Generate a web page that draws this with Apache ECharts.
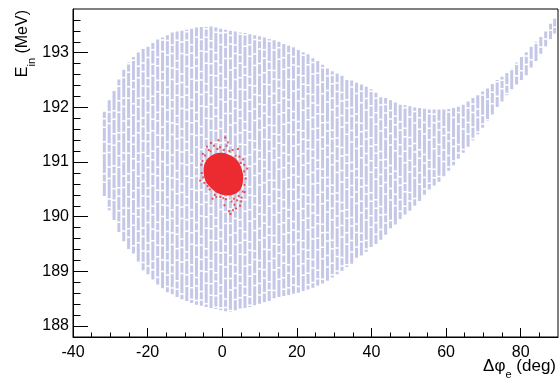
<!DOCTYPE html>
<html><head><meta charset="utf-8">
<script src="https://cdn.jsdelivr.net/npm/echarts@6/dist/echarts.min.js"></script>
<style>html,body{margin:0;padding:0;background:#fff}#c{width:559px;height:378px}</style>
</head><body><div id="c"></div>
<script>
// ---- tick labels ----
const xMajorTicks = [-40, -20, 0, 20, 40, 60, 80];
const xMinorTicks = [-35, -30, -25, -15, -10, -5, 5, 10, 15, 25, 30, 35, 45, 50, 55, 65, 70, 75, 85];
const yMajorTicks = [188, 189, 190, 191, 192, 193];
const yMinorTicks = [188.2, 188.4, 188.6, 188.8, 189.2, 189.4, 189.6, 189.8, 190.2, 190.4, 190.6, 190.8,
  191.2, 191.4, 191.6, 191.8, 192.2, 192.4, 192.6, 192.8, 193.2, 193.4, 193.6];

// ---- broad (lavender) distribution: one vertical stripe per column ----
const bandX = [-31.6, -30.3, -29.0, -27.7, -26.4, -25.1, -23.8, -22.5, -21.2, -19.9,
  -18.6, -17.3, -16.0, -14.7, -13.4, -12.1, -10.8, -9.5, -8.2, -6.9,
  -5.6, -4.3, -3.0, -1.7, -0.4, 0.9, 2.2, 3.5, 4.8, 6.1,
  7.4, 8.7, 10.0, 11.3, 12.6, 13.9, 15.2, 16.5, 17.8, 19.1,
  20.4, 21.7, 23.0, 24.3, 25.6, 26.9, 28.2, 29.5, 30.8, 32.1,
  33.4, 34.7, 36.0, 37.3, 38.6, 39.9, 41.2, 42.5, 43.8, 45.1,
  46.4, 47.7, 49.0, 50.3, 51.6, 52.9, 54.2, 55.5, 56.8, 58.1,
  59.4, 60.7, 62.0, 63.3, 64.6, 65.9, 67.2, 68.5, 69.8, 71.1,
  72.4, 73.7, 75.0, 76.3, 77.6, 78.9, 80.2, 81.5, 82.8, 84.1,
  85.4, 86.7, 88.0, 89.1];
const bandHigh = [191.92, 192.13, 192.32, 192.51, 192.69, 192.82, 192.92, 193.01, 193.07, 193.12,
  193.18, 193.24, 193.28, 193.32, 193.37, 193.39, 193.40, 193.42, 193.44, 193.46,
  193.47, 193.47, 193.48, 193.46, 193.44, 193.42, 193.40, 193.39, 193.37, 193.36,
  193.34, 193.32, 193.30, 193.28, 193.25, 193.23, 193.20, 193.17, 193.13, 193.10,
  193.05, 193.01, 192.97, 192.90, 192.85, 192.78, 192.71, 192.66, 192.62, 192.58,
  192.53, 192.49, 192.45, 192.42, 192.38, 192.33, 192.27, 192.21, 192.17, 192.13,
  192.09, 192.05, 192.04, 192.02, 192.00, 191.99, 191.98, 191.96, 191.96, 191.96,
  191.96, 191.97, 191.99, 192.01, 192.05, 192.11, 192.17, 192.22, 192.29, 192.36,
  192.43, 192.50, 192.56, 192.63, 192.71, 192.82, 192.92, 193.01, 193.11, 193.20,
  193.29, 193.39, 193.53, 193.62];
const bandLow = [190.38, 190.12, 189.92, 189.72, 189.55, 189.41, 189.30, 189.18, 189.02, 188.95,
  188.85, 188.76, 188.69, 188.62, 188.58, 188.53, 188.49, 188.46, 188.42, 188.39,
  188.37, 188.35, 188.33, 188.31, 188.29, 188.27, 188.26, 188.29, 188.31, 188.33,
  188.35, 188.38, 188.41, 188.44, 188.46, 188.50, 188.53, 188.55, 188.57, 188.59,
  188.61, 188.64, 188.67, 188.70, 188.74, 188.78, 188.83, 188.89, 188.95, 189.01,
  189.08, 189.14, 189.22, 189.29, 189.36, 189.43, 189.50, 189.58, 189.67, 189.76,
  189.86, 189.96, 190.04, 190.11, 190.20, 190.29, 190.40, 190.50, 190.57, 190.64,
  190.74, 190.84, 190.94, 191.06, 191.17, 191.28, 191.40, 191.51, 191.63, 191.75,
  191.87, 192.00, 192.11, 192.22, 192.33, 192.42, 192.50, 192.59, 192.72, 192.85,
  192.98, 193.12, 193.25, 193.35];

// ---- narrow (red) distribution: dense core outline + stray points ----
const coreOutline = [[-5.0, 190.88], [-4.2, 191.04], [-2.0, 191.15], [0.0, 191.17], [2.2, 191.12],
  [4.2, 191.02], [5.5, 190.80], [5.5, 190.62], [4.9, 190.50], [3.2, 190.41], [1.2, 190.39],
  [-1.2, 190.43], [-2.9, 190.52], [-4.5, 190.66]];
const coreStray = [[-5.6, 190.95], [-5.2, 191.15], [-3.6, 191.22], [-2.2, 191.30], [-0.6, 191.27],
  [1.2, 191.30], [2.8, 191.22], [4.6, 191.10], [5.9, 190.95], [6.3, 190.70], [6.0, 190.45],
  [5.2, 190.35], [4.0, 190.30], [2.5, 190.28], [1.0, 190.32], [-0.5, 190.36], [-2.0, 190.40],
  [-3.4, 190.50], [-4.8, 190.62], [-5.5, 190.80], [3.7, 190.15], [1.8, 190.10], [4.8, 190.20],
  [-1.0, 191.40], [0.8, 191.45], [2.2, 190.05], [-3.0, 191.35], [5.6, 191.05],
  [-5.3, 191.02], [-4.6, 191.12], [-3.1, 191.20], [-1.3, 191.24], [0.4, 191.22], [1.9, 191.20],
  [3.6, 191.12], [5.0, 190.98], [5.9, 190.83], [6.0, 190.58], [5.5, 190.46], [4.4, 190.38],
  [3.1, 190.33], [0.3, 190.34], [-1.6, 190.36], [-3.9, 190.56], [-5.1, 190.72], [-4.1, 191.28],
  [1.5, 191.36], [3.3, 190.22], [0.6, 190.21], [-2.6, 190.33], [6.7, 190.88], [4.2, 191.24],
  [-5.9, 190.66], [2.9, 190.12], [5.1, 190.28]];

const FONT = '"Liberation Sans", Arial, Helvetica, sans-serif';
const chart = echarts.init(document.getElementById('c'), null, {renderer: 'canvas'});

const baseY = {type: 'value', min: 187.8, max: 193.8, gridIndex: 0};
const baseX = {type: 'value', min: -40, max: 90, gridIndex: 0};
const STRIPE = '#c4c8e6';

chart.setOption({
  animation: false,
  backgroundColor: '#fff',
  grid: {left: 73, right: 1, top: 9, bottom: 41, show: true, borderColor: '#000', borderWidth: 1,
    containLabel: false, outerBoundsMode: 'none'},
  xAxis: [
    Object.assign({}, baseX, {
      position: 'bottom',
      name: '{t|Δφ}{s|e}{t| (deg)}',
      nameLocation: 'end', nameGap: -2, nameMoveOverlap: false,
      nameTextStyle: {align: 'right', verticalAlign: 'top', padding: [21, 0, 0, 0],
        rich: {t: {fontFamily: FONT, fontSize: 17, color: '#000', lineHeight: 18, verticalAlign: 'top'},
               s: {fontFamily: FONT, fontSize: 11, color: '#000', lineHeight: 11, verticalAlign: 'top', padding: [11, 0, 0, 0]}}},
      axisLine: {show: true, onZero: false, lineStyle: {color: '#000', width: 1}},
      axisTick: {show: true, inside: true, length: 9, customValues: xMajorTicks, lineStyle: {color: '#000', width: 1}},
      axisLabel: {show: true, customValues: xMajorTicks, margin: 8, color: '#000', fontFamily: FONT, fontSize: 16},
      splitLine: {show: false}
    }),
    Object.assign({}, baseX, {
      position: 'bottom',
      axisLine: {show: false, onZero: false},
      axisTick: {show: true, inside: true, length: 4.5, customValues: xMinorTicks, lineStyle: {color: '#000', width: 1}},
      axisLabel: {show: false},
      splitLine: {show: false}
    })
  ],
  yAxis: [
    Object.assign({}, baseY, {
      position: 'left',
      name: '{t|E}{s|in}{t| (MeV)}',
      nameLocation: 'end', nameGap: -1, nameRotate: 90, nameMoveOverlap: false,
      nameTextStyle: {align: 'right', verticalAlign: 'bottom', padding: [0, 0, 40, 0],
        rich: {t: {fontFamily: FONT, fontSize: 16, color: '#000', lineHeight: 18, verticalAlign: 'top'},
               s: {fontFamily: FONT, fontSize: 11, color: '#000', lineHeight: 11, verticalAlign: 'top', padding: [11, 0, 0, 0]}}},
      axisLine: {show: true, onZero: false, lineStyle: {color: '#000', width: 1}},
      axisTick: {show: true, inside: true, length: 15, customValues: yMajorTicks, lineStyle: {color: '#000', width: 1}},
      axisLabel: {show: true, customValues: yMajorTicks, margin: 4, color: '#000', fontFamily: FONT, fontSize: 16},
      splitLine: {show: false}
    }),
    Object.assign({}, baseY, {
      position: 'left',
      axisLine: {show: false, onZero: false},
      axisTick: {show: true, inside: true, length: 7.5, customValues: yMinorTicks, lineStyle: {color: '#000', width: 1}},
      axisLabel: {show: false},
      splitLine: {show: false}
    })
  ],
  series: [
    {
      name: 'broad', type: 'custom', xAxisIndex: 0, yAxisIndex: 0, silent: true, clip: true,
      data: bandX.map((x, i) => [x, bandLow[i], bandHigh[i]]),
      encode: {x: 0, y: [1, 2]},
      renderItem: function (params, api) {
        const p1 = api.coord([api.value(0), api.value(1)]);
        const p2 = api.coord([api.value(0), api.value(2)]);
        return {type: 'line', shape: {x1: p1[0], y1: p1[1], x2: p2[0], y2: p2[1]},
          style: {stroke: STRIPE, lineWidth: 3, lineDash: [13, 1.5, 7, 1.5, 19, 1.5, 10, 1.5],
            lineDashOffset: (params.dataIndex * 11) % 53}};
      }
    },
    {
      name: 'core', type: 'custom', xAxisIndex: 0, yAxisIndex: 0, silent: true, clip: true,
      data: coreOutline, encode: {x: 0, y: 1},
      renderItem: function (params, api) {
        if (params.dataIndex !== 0) return null;
        const pts = coreOutline.map(p => api.coord(p));
        return {type: 'polygon', shape: {points: pts, smooth: 0.35}, style: {fill: '#ec2b30'}};
      }
    },
    {
      name: 'stray', type: 'scatter', xAxisIndex: 0, yAxisIndex: 0, silent: true,
      symbol: 'rect', symbolSize: 2, data: coreStray,
      itemStyle: {color: '#ec2b30'}
    }
  ]
});
</script>
</body></html>
